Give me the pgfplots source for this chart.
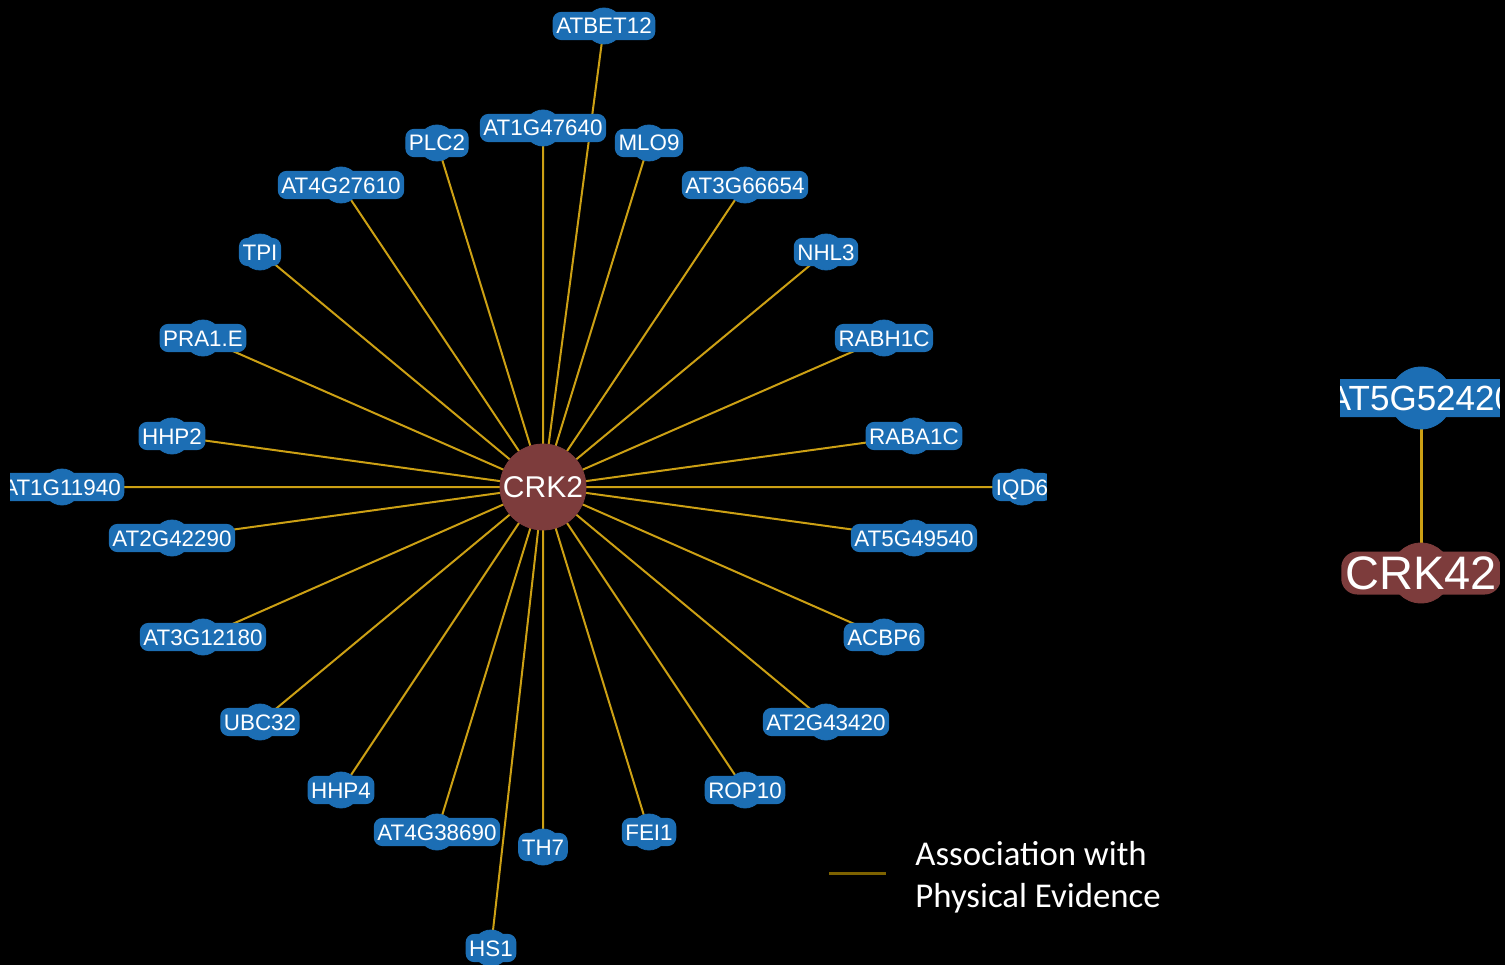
\documentclass[border=0pt]{standalone}
\usepackage{fontspec}
\setmainfont{Liberation Sans}
\newfontfamily\calibri{Carlito}
\usepackage{pgfplots}
\usepackage{pgfplotstable}
\pgfplotsset{compat=1.18}

\definecolor{nodeblue}{RGB}{28,110,180}
\definecolor{crkred}{RGB}{125,60,60}
\definecolor{edgegold}{RGB}{204,160,20}
\definecolor{legendgold}{RGB}{125,98,0}

% partner nodes of CRK2 (pixel positions, y downwards)
\pgfplotstableread{
x    y    label
604  26   ATBET12
543  128  AT1G47640
437  143  PLC2
649  143  MLO9
341  185  AT4G27610
745  185  AT3G66654
260  252  TPI
826  252  NHL3
203  338  PRA1.E
884  338  RABH1C
172  436  HHP2
914  436  RABA1C
62   487  AT1G11940
1022 487  IQD6
172  538  AT2G42290
914  538  AT5G49540
203  637  AT3G12180
884  637  ACBP6
260  722  UBC32
826  722  AT2G43420
341  790  HHP4
745  790  ROP10
437  832  AT4G38690
649  832  FEI1
543  847  TH7
491  948  HS1
}\partners

% edges CRK2 -> partner, separated by nan rows
\pgfplotstableread{
x    y
543  487
604  26
nan  nan
543  487
543  128
nan  nan
543  487
437  143
nan  nan
543  487
649  143
nan  nan
543  487
341  185
nan  nan
543  487
745  185
nan  nan
543  487
260  252
nan  nan
543  487
826  252
nan  nan
543  487
203  338
nan  nan
543  487
884  338
nan  nan
543  487
172  436
nan  nan
543  487
914  436
nan  nan
543  487
62   487
nan  nan
543  487
1022 487
nan  nan
543  487
172  538
nan  nan
543  487
914  538
nan  nan
543  487
203  637
nan  nan
543  487
884  637
nan  nan
543  487
260  722
nan  nan
543  487
826  722
nan  nan
543  487
341  790
nan  nan
543  487
745  790
nan  nan
543  487
437  832
nan  nan
543  487
649  832
nan  nan
543  487
543  847
nan  nan
543  487
491  948
}\edges

\begin{document}
\begin{tikzpicture}
\begin{axis}[
    name=net,
    scale only axis,
    width=752.5bp,
    height=482.5bp,
    xmin=0, xmax=1505,
    ymin=0, ymax=965,
    y dir=reverse,
    axis lines=none,
    ticks=none,
    unbounded coords=jump,
    clip marker paths=true,
]
\fill[black] (rel axis cs:0,0) rectangle (rel axis cs:1,1);

% edges
\addplot[color=edgegold, line width=1bp] table[x=x, y=y] {\edges};
\addplot[color=edgegold, line width=1.5bp] coordinates {(1421,398) (1421,573)};

% partner nodes
\addplot[
    only marks, mark=*, color=nodeblue, mark size=9bp,
    point meta=explicit symbolic,
    nodes near coords,
    every node near coord/.append style={
        anchor=center, fill=nodeblue, text=white,
        draw=nodeblue, line width=0.6bp,
        rounded corners=4bp, inner xsep=1.5bp, inner ysep=0pt,
        text height=8bp, text depth=0bp, minimum height=13.5bp,
        font=\fontsize{11.2bp}{13bp}\selectfont},
] table[x=x, y=y, meta=label] {\partners};

% hub
\addplot[
    only marks, mark=*, color=crkred, mark size=21.5bp,
    point meta=explicit symbolic,
    nodes near coords,
    every node near coord/.append style={
        anchor=center, text=white, inner sep=0pt,
        text height=10.8bp, text depth=0bp,
        font=\fontsize{15bp}{17bp}\selectfont},
] table[meta=label] {
x   y   label
543 487 CRK2
};

% second component
\addplot[
    only marks, mark=*, color=nodeblue, mark size=15.5bp,
    point meta=explicit symbolic,
    nodes near coords,
    every node near coord/.append style={
        anchor=center, fill=nodeblue, text=white,
        rounded corners=6bp, inner xsep=2bp, inner ysep=0pt,
        text height=12.5bp, text depth=0bp, minimum height=19bp,
        font=\fontsize{17.5bp}{20bp}\selectfont},
] table[meta=label] {
x    y   label
1421 398 AT5G52420
};
\addplot[
    only marks, mark=*, color=crkred, mark size=15bp,
    point meta=explicit symbolic,
    nodes near coords,
    every node near coord/.append style={
        anchor=center, fill=crkred, text=white,
        rounded corners=8bp, inner xsep=2bp, inner ysep=0pt,
        text height=16.8bp, text depth=0bp, minimum height=21.5bp,
        font=\fontsize{23.5bp}{26bp}\selectfont},
] table[meta=label] {
x    y   label
1421 573 CRK42
};

% crop edges of the two network panels
\fill[black] (axis cs:0,0) rectangle (axis cs:10,965);
\fill[black] (axis cs:1047,0) rectangle (axis cs:1340,815);
\fill[black] (axis cs:1500,0) rectangle (axis cs:1505,965);

% legend
\addplot[color=legendgold, line width=1.5bp] coordinates {(829,873) (886,873)};
\node[anchor=west, text=white, align=left, inner sep=0pt,
      font=\calibri\fontsize{17.4bp}{21bp}\selectfont]
    at (axis cs:915,877) {Association with\\Physical Evidence};
\end{axis}
\pgfresetboundingbox
\path[use as bounding box] (net.south west) rectangle (net.north east);
\end{tikzpicture}
\end{document}
